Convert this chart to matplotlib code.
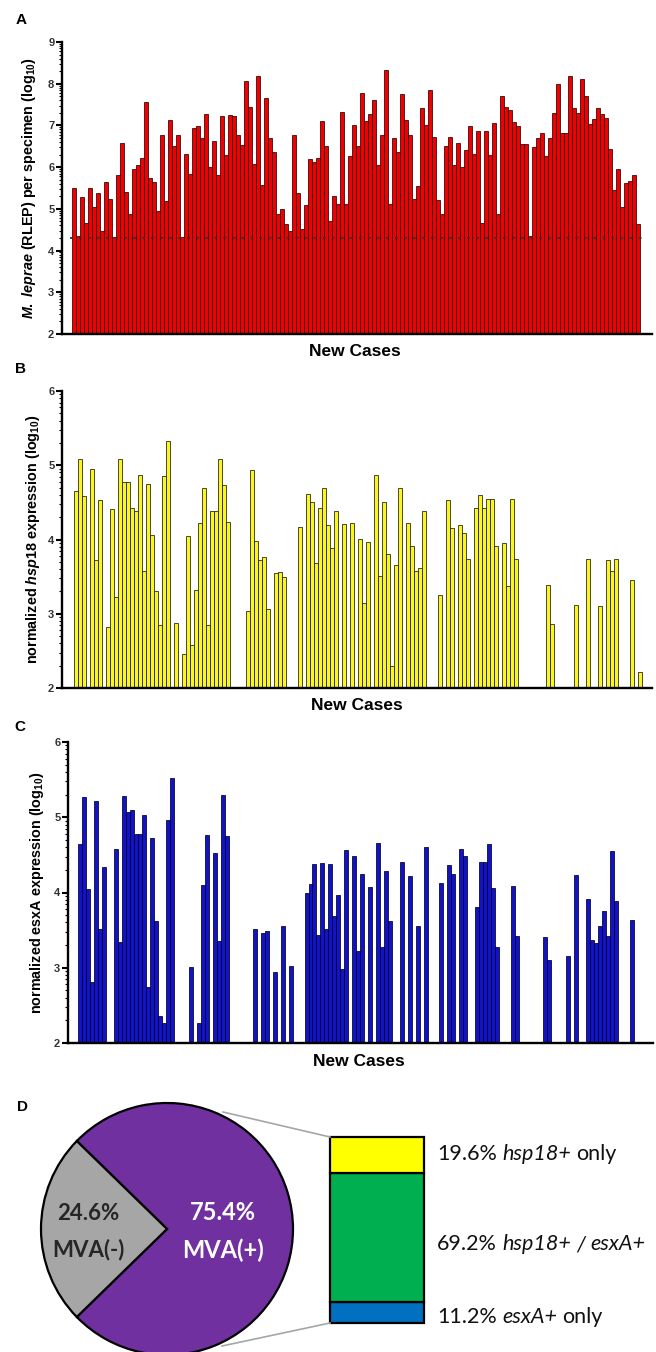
import numpy as np
import matplotlib
matplotlib.use("Agg")
import matplotlib.pyplot as plt

# ---- data (log10 values) ----
rlep = [5.49, 4.35, 5.29, 4.65, 5.49, 5.05, 5.39, 4.46, 5.64, 5.24,
        4.32, 5.80, 6.59, 5.40, 4.88, 5.95, 6.04, 6.23, 7.57, 5.73,
        5.64, 4.96, 6.78, 5.18, 7.14, 6.51, 6.78, 4.32, 6.31, 5.84,
        6.95, 6.98, 6.69, 7.27, 6.00, 6.62, 5.82, 7.23, 6.29, 7.26,
        7.22, 6.77, 6.53, 8.07, 7.45, 6.07, 8.18, 5.57, 7.66, 6.69,
        6.37, 4.88, 5.00, 4.63, 4.48, 6.77, 5.37, 4.51, 5.09, 6.19,
        6.13, 6.23, 7.11, 6.51, 4.70, 5.31, 5.12, 7.33, 5.12, 6.27,
        7.02, 6.51, 7.78, 7.11, 7.27, 7.61, 6.05, 6.77, 8.34, 5.12,
        6.71, 6.37, 7.75, 7.14, 6.77, 5.24, 5.55, 7.42, 7.02, 7.86,
        6.73, 5.21, 4.88, 6.51, 6.73, 6.05, 6.59, 6.01, 6.41, 6.99,
        6.31, 6.87, 4.67, 6.86, 6.29, 7.05, 4.88, 7.70, 7.45, 7.37,
        7.09, 6.99, 6.55, 6.55, 4.36, 6.49, 6.69, 6.83, 6.27, 6.69,
        7.30, 8.00, 6.81, 6.81, 8.18, 7.41, 7.30, 8.12, 7.70, 7.03,
        7.15, 7.42, 7.27, 7.19, 6.43, 5.45, 5.95, 5.05, 5.63, 5.67,
        5.80, 4.63]
rlep_cutoff = 4.3

N = None
hsp18 = [4.65, 5.08, 4.59, N, 4.95, 3.73, 4.53, N, 2.82, 4.41,
         3.22, 5.08, 4.77, 4.78, 4.43, 4.38, 4.87, 3.58, 4.75, 4.06,
         3.31, 2.85, 4.86, 5.33, N, 2.87, N, 2.46, 4.05, 2.58,
         3.32, 4.22, 4.70, 2.85, 4.39, 4.38, 5.08, 4.74, 4.24, N,
         N, N, N, 3.04, 4.93, 3.98, 3.72, 3.76, 3.07, N,
         3.55, 3.56, 3.49, N, N, N, 4.17, N, 4.61, 4.51,
         3.69, 4.43, 4.69, 4.19, 3.88, 4.38, N, 4.21, N, 4.22,
         N, 4.01, 3.15, 3.96, N, 4.87, 3.51, 4.50, 3.81, 2.29,
         3.65, 4.70, N, 4.22, 3.91, 3.58, 3.61, 4.38, N, N,
         N, 3.25, N, 4.53, 4.15, N, 4.19, 4.09, 3.74, N,
         4.43, 4.60, 4.43, 4.55, 4.55, 3.91, N, 3.95, 3.38, 4.55,
         3.74, N, N, N, N, N, N, N, 3.39, 2.86,
         N, N, N, N, N, 3.12, N, N, 3.74, N,
         N, 3.10, N, 3.72, 3.57, 3.74, N, N, N, 3.46,
         N, 2.22]

esxA = [4.65, 5.27, 4.05, 2.81, 5.21, 3.52, 4.34, N, N, 4.58,
        3.34, 5.28, 5.07, 5.10, 4.78, 4.78, 5.03, 2.75, 4.73, 3.62,
        2.36, 2.27, 4.96, 5.52, N, N, N, N, 3.01, N,
        2.27, 4.10, 4.76, N, 4.52, 3.35, 5.29, 4.75, N, N,
        N, N, N, N, 3.52, N, 3.46, 3.49, N, 2.95,
        N, 3.56, N, 3.02, N, N, N, 3.99, 4.11, 4.38,
        3.44, 4.39, 3.52, 4.38, 3.69, 3.97, 2.99, 4.56, N, 4.48,
        3.22, 4.24, N, 4.07, N, 4.66, 3.27, 4.28, 3.62, N,
        N, 4.40, N, 4.22, N, 3.55, N, 4.61, N, N,
        N, 4.12, N, 4.36, 4.25, N, 4.58, 4.48, N, N,
        3.81, 4.40, 4.40, 4.65, 4.06, 3.27, N, N, N, 4.08,
        3.42, N, N, N, N, N, N, 3.41, 3.10, N,
        N, N, N, 3.16, N, 4.23, N, N, 3.91, 3.37,
        3.33, 3.56, 3.75, 3.42, 4.55, 3.89, N, N, N, 3.64,
        N, N]

mva_labels = ["MVA(+)", "MVA(-)"]
mva_pct = [75.4, 24.6]
split_labels = ["esxA+ only", "hsp18+ / esxA+", "hsp18+ only"]   # bottom -> top
split_pct = [11.2, 69.2, 19.6]

W, H = 656, 1352
plt.rcParams.update({
    "mathtext.fontset": "custom",
    "mathtext.rm": "Liberation Sans:bold",
    "mathtext.it": "Liberation Sans:italic:bold",
    "mathtext.bf": "Liberation Sans:bold",
    "mathtext.bfit": "Liberation Sans:italic:bold",
})
fig = plt.figure(figsize=(W / 100, H / 100), dpi=100)
fig.patch.set_facecolor("white")


def px_axes(x0, y0, x1, y1):
    return fig.add_axes([x0 / W, 1 - y1 / H, (x1 - x0) / W, (y1 - y0) / H])


def ftext(x, y, s, **kw):
    return fig.text(x / W, 1 - y / H, s, **kw)


def bar_panel(box, values, ymin, ymax, xlim, face, edge, ylabel, ylab_x, xlab_xy, letter_xy, letter):
    ax = px_axes(*box)
    v = np.array(values, dtype=float)
    idx = np.arange(len(v))
    ok = ~np.isnan(v)
    ax.bar(idx[ok], v[ok], width=1.0, color=face, edgecolor=edge, linewidth=0.55)
    ax.set_xlim(*xlim)
    ax.set_ylim(ymin, ymax)
    for s in ["top", "right"]:
        ax.spines[s].set_visible(False)
    ax.spines["left"].set_linewidth(1.7)
    ax.spines["bottom"].set_linewidth(1.7)
    ax.set_xticks([])
    ax.set_yticks(range(ymin, ymax + 1))
    minor = [k + np.log10(m) for k in range(ymin, ymax) for m in range(2, 10)]
    ax.set_yticks(minor, minor=True)
    ax.tick_params(axis="y", which="major", length=4, width=1.5, labelsize=8,
                   pad=1.5, labelcolor="#333333")
    ax.tick_params(axis="y", which="minor", length=2.2, width=0.8)
    for lab in ax.get_yticklabels():
        lab.set_fontweight("bold")
        lab.set_family("Liberation Sans")
    ax.patch.set_alpha(0)
    yc = (box[1] + box[3]) / 2
    ftext(ylab_x, yc, ylabel, rotation=90, ha="center", va="center", fontsize=10.4,
          fontweight="bold", family="Liberation Sans")
    ftext(xlab_xy[0], xlab_xy[1], "New Cases", ha="center", va="center", fontsize=12.5,
          fontweight="bold", family="Liberation Sans")
    ftext(letter_xy[0], letter_xy[1], letter, ha="center", va="center", fontsize=11,
          fontweight="bold", family="Liberation Sans")
    return ax


# Panel A (4 px per case)
axA = bar_panel((62, 42, 652, 334), rlep, 2, 9, (-3.0, 144.5), "#f00000", "#2a0000",
                r"$M.\ leprae$ (RLEP) per specimen (log$_{10}$)", 29, (355, 352), (21, 20), "A")
axA.hlines(rlep_cutoff, -1.0, 142.6, colors="#333333", linestyles=(0, (1.5, 3.5)), linewidth=1.3)

# Panel B
bar_panel((62, 391, 652, 688), hsp18, 2, 6, (-3.5, 144.0), "#f8f520", "#1a1a00",
          r"normalized $\mathit{hsp18}$ expression (log$_{10}$)", 33, (357, 705), (21, 369), "B")

# Panel C
bar_panel((68, 742, 653, 1043), esxA, 2, 6, (-3.1, 144.3), "#1212c8", "#000022",
          r"normalized esxA expression (log$_{10}$)", 37, (359, 1062), (20, 727), "C")

# Panel D
axD = fig.add_axes([0, 0, 1, 262 / H])
py = lambda y: H - y
pie_c = (167, py(1229))
start = 180 + mva_pct[1] / 100 * 180
axD.pie(mva_pct, colors=["#7030a0", "#a6a6a6"], startangle=start, center=pie_c, radius=126,
        wedgeprops=dict(edgecolor="black", linewidth=1.6))
axD.set_xlim(0, W)
axD.set_ylim(0, 262)
axD.set_aspect("auto")
axD.axis("off")

axD.text(223, py(1213), f"{mva_pct[0]:.1f}%", color="white", fontsize=17, fontweight="bold",
         family="Lato", ha="center", va="center")
axD.text(223, py(1250), mva_labels[0], color="white", fontsize=17, fontweight="bold",
         family="Lato", ha="center", va="center")
axD.text(88, py(1214), f"{mva_pct[1]:.1f}%", color="#262626", fontsize=16, fontweight="bold",
         family="Lato", ha="center", va="center")
axD.text(88, py(1250), mva_labels[1], color="#262626", fontsize=16, fontweight="bold",
         family="Lato", ha="center", va="center")

# zoom lines from pie to the stacked bar
axD.plot([223, 330], [py(1112), py(1137)], color="#a6a6a6", linewidth=1.2)
axD.plot([222, 330], [py(1346), py(1323)], color="#a6a6a6", linewidth=1.2)

bar_bottom, bar_h = py(1323), 186
seg_colors = ["#0070c0", "#00b050", "#ffff00"]
bottom = bar_bottom
for pct, col in zip(split_pct, seg_colors):
    h = pct / 100 * bar_h
    axD.bar(377, h, bottom=bottom, width=94, color=col, edgecolor="black", linewidth=1.6)
    bottom += h

renderer = fig.canvas.get_renderer()


def rich(x_px, y_px, parts, size=15.5):
    gap = size * 100 / 72 * 0.24
    x = x_px
    for s, st in parts:
        t = ftext(x, y_px, s, fontsize=size, family="Lato", style=st, ha="left",
                  va="center_baseline", color="#111111")
        x += t.get_window_extent(renderer).width + gap


label_y = [1315, 1242, 1152]
for pct, lab, ly in zip(split_pct, split_labels, label_y):
    parts = [(f"{pct:.1f}%", "normal")]
    for word in lab.split(" "):
        parts.append((word, "normal" if word == "only" else "italic"))
    rich(437, ly, parts)

ftext(22, 1107, "D", ha="center", va="center", fontsize=11, fontweight="bold",
      family="Liberation Sans")

fig.savefig("out.png", dpi=100)
